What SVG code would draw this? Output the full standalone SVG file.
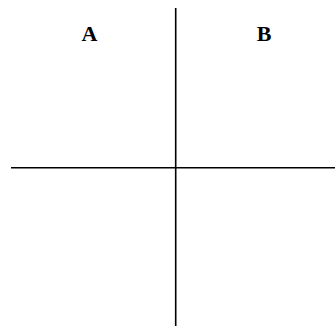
<svg xmlns="http://www.w3.org/2000/svg" width="335" height="328" viewBox="0 0 335 328">
<style>
.ax{stroke:#000;stroke-width:1.6;fill:none}
.lbl{font-family:"Liberation Serif","Times New Roman",serif;font-weight:bold;font-size:22px;fill:#000;text-anchor:middle}
</style>
<rect width="335" height="328" fill="#fff"/>
<g id="connectors">
<line class="ax" x1="175.7" y1="8" x2="175.7" y2="326"/>
<line class="ax" x1="11" y1="167.7" x2="335" y2="167.7"/>
</g>
<g id="A"><text class="lbl" x="89.5" y="41">A</text></g>
<g id="B"><text class="lbl" x="264" y="41">B</text></g>
</svg>
